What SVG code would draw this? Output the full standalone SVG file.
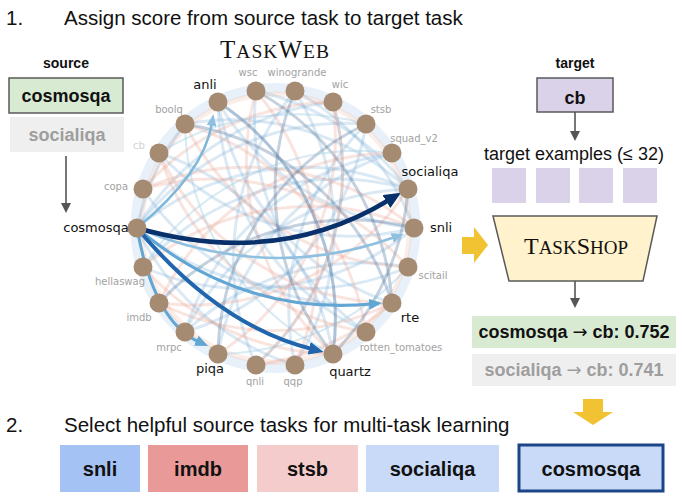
<svg xmlns="http://www.w3.org/2000/svg" width="682" height="504" viewBox="0 0 682 504">
<defs>
<style>
.ttl{font-family:"Liberation Sans",Arial,sans-serif;font-size:20.5px;fill:#111}
.hd{font-family:"Liberation Sans",Arial,sans-serif;font-size:14px;font-weight:bold;fill:#111;text-anchor:middle}
.bx{font-family:"Liberation Sans",Arial,sans-serif;font-size:18px;font-weight:bold;fill:#111;text-anchor:middle}
.bxg{fill:#9e9e9e}
.ar{font-family:"DejaVu Sans",sans-serif;font-weight:normal}
.bb{font-family:"Liberation Sans",Arial,sans-serif;font-size:20px;font-weight:bold;fill:#111;text-anchor:middle}
.sc{font-family:"Liberation Serif","Times New Roman",serif;fill:#111;text-anchor:middle}
.nl{font-family:"DejaVu Sans",sans-serif;font-size:13px;fill:#111;text-anchor:middle}
.gl{font-family:"DejaVu Sans",sans-serif;font-size:10px;fill:#a2a2a2;text-anchor:middle}
.node{fill:#a68b73}
.w1{fill:none;stroke:#5a9ccc;stroke-width:3;opacity:.22}
.w2{fill:none;stroke:#e69a86;stroke-width:3;opacity:.26}
.w3{fill:none;stroke:#4f739b;stroke-width:3;opacity:.33}
.w4{fill:none;stroke:#9ecae1;stroke-width:2;opacity:.4}
.gray{fill:none;stroke:#555;stroke-width:1.6}
.yel{fill:#f1c232}
</style>
<marker id="mg" markerUnits="userSpaceOnUse" markerWidth="10" markerHeight="10" refX="2" refY="5" orient="auto"><path d="M0,0 L10,5 L0,10 z" fill="#555"/></marker>
<marker id="mnavy" markerUnits="userSpaceOnUse" markerWidth="17" markerHeight="15" refX="3" refY="7.5" orient="auto"><path d="M0,0 L17,7.5 L0,15 z" fill="#08306b"/></marker>
<marker id="mblue" markerUnits="userSpaceOnUse" markerWidth="15" markerHeight="13" refX="3" refY="6.5" orient="auto"><path d="M0,0 L15,6.5 L0,13 z" fill="#2166ac"/></marker>
<marker id="mmid" markerUnits="userSpaceOnUse" markerWidth="13" markerHeight="11" refX="3" refY="5.5" orient="auto"><path d="M0,0 L13,5.5 L0,11 z" fill="#62a6d3"/></marker>
<marker id="mlt" markerUnits="userSpaceOnUse" markerWidth="12" markerHeight="10" refX="3" refY="5" orient="auto"><path d="M0,0 L12,5 L0,10 z" fill="#8fc0df"/></marker>
</defs>
<rect width="682" height="504" fill="#fff"/>

<text class="ttl" x="6" y="25">1.</text>
<text class="ttl" x="64" y="25">Assign score from source task to target task</text>
<text class="ttl" x="6" y="432">2.</text>
<text class="ttl" x="64" y="432">Select helpful source tasks for multi-task learning</text>

<text class="sc" x="275" y="58" letter-spacing="1"><tspan font-size="25">T</tspan><tspan font-size="19.5">ASK</tspan><tspan font-size="25">W</tspan><tspan font-size="19.5">EB</tspan></text>

<g id="source">
<text class="hd" x="66" y="68">source</text>
<rect x="9" y="78" width="114" height="35" fill="#d9ead3" stroke="#595959" stroke-width="1.5"/>
<text class="bx" x="66" y="102">cosmosqa</text>
<rect x="10" y="117" width="114" height="35" fill="#efefef"/>
<text class="bx bxg" x="67" y="141">socialiqa</text>
</g>

<g id="target">
<text class="hd" x="575" y="68">target</text>
<rect x="537" y="78" width="76" height="34" fill="#d9d2e9" stroke="#595959" stroke-width="1.5"/>
<text class="bx" x="575" y="104" font-size="24">cb</text>
</g>

<g id="examples">
<text x="574" y="160" font-family="Liberation Sans,Arial,sans-serif" font-size="18" fill="#111" text-anchor="middle">target examples (≤ 32)</text>
<rect x="492" y="168" width="34" height="35" fill="#d9d2e9"/>
<rect x="536" y="168" width="34" height="35" fill="#d9d2e9"/>
<rect x="579" y="168" width="34" height="35" fill="#d9d2e9"/>
<rect x="623" y="168" width="34" height="35" fill="#d9d2e9"/>
</g>

<g id="taskshop">
<polygon points="493,216 657,216 643,281 509,281" fill="#fff2cc" stroke="#595959" stroke-width="1.5"/>
<text class="sc" x="576" y="254"><tspan font-size="24">T</tspan><tspan font-size="19">ASK</tspan><tspan font-size="24">S</tspan><tspan font-size="19">HOP</tspan></text>
</g>

<g id="results">
<rect x="472" y="316" width="204" height="32" fill="#d9ead3"/>
<text class="bx" x="574" y="338">cosmosqa <tspan class="ar">→</tspan> cb: 0.752</text>
<rect x="472" y="354" width="204" height="32" fill="#efefef"/>
<text class="bx bxg" x="574" y="376">socialiqa <tspan class="ar">→</tspan> cb: 0.741</text>
</g>

<g id="selected">
<rect x="60" y="445" width="80" height="47" fill="#a4c2f4"/>
<text class="bb" x="100" y="476">snli</text>
<rect x="148" y="445" width="100" height="47" fill="#ea9999"/>
<text class="bb" x="198" y="476">imdb</text>
<rect x="257" y="445" width="101" height="47" fill="#f4cccc"/>
<text class="bb" x="307.5" y="476">stsb</text>
<rect x="366" y="445" width="133" height="47" fill="#c9daf8"/>
<text class="bb" x="432.5" y="476">socialiqa</text>
<rect x="519" y="445" width="144" height="46" fill="#c9daf8" stroke="#1c4587" stroke-width="3"/>
<text class="bb" x="591" y="476">cosmosqa</text>
</g>

<g id="flow-arrows">
<path class="gray" d="M66,156 L66,205" marker-end="url(#mg)"/>
<path class="gray" d="M575,112 L575,133" marker-end="url(#mg)"/>
<path class="gray" d="M575,281 L575,300" marker-end="url(#mg)"/>
<polygon class="yel" points="462,237 474,237 474,227 488,245 474,263 474,254 462,254"/>
<polygon class="yel" points="583,399 603,399 603,412 613,412 593,425 573,412 583,412"/>
</g>

<g id="connectors">
<circle cx="275.5" cy="228" r="140" fill="none" stroke="#bcd8ee" stroke-width="10" opacity=".35"/>
<circle cx="275.5" cy="228" r="134" fill="none" stroke="#f2c4b4" stroke-width="5" opacity=".3"/>
<path class="w1" d="M185,124 A260,260 0 0,1 408,189"/>
<path class="w1" d="M159,153 A260,260 0 0,0 414,228"/>
<path class="w1" d="M185,332 A260,260 0 0,1 408,267"/>
<path class="w1" d="M218,354 A260,260 0 0,1 392,153"/>
<path class="w1" d="M256,365 A260,260 0 0,0 333,102"/>
<path class="w1" d="M295,365 A260,260 0 0,1 366,124"/>
<path class="w1" d="M333,354 A260,260 0 0,0 218,102"/>
<path class="w1" d="M414,228 A260,260 0 0,1 143,267"/>
<path class="w1" d="M392,153 A260,260 0 0,0 185,332"/>
<path class="w1" d="M295,91 A260,260 0 0,1 295,365"/>
<path class="w1" d="M256,91 A260,260 0 0,0 366,332"/>
<path class="w1" d="M159,153 A260,260 0 0,1 333,354"/>
<path class="w1" d="M143,189 A260,260 0 0,0 392,303"/>
<path class="w1" d="M143,267 A260,260 0 0,1 408,189"/>
<path class="w1" d="M185,332 A260,260 0 0,0 366,124"/>
<path class="w1" d="M256,365 A260,260 0 0,1 295,91"/>
<path class="w1" d="M408,189 A260,260 0 0,0 185,332"/>
<path class="w1" d="M366,332 A260,260 0 0,1 218,102"/>
<path class="w1" d="M218,102 A260,260 0 0,0 414,228"/>
<path class="w1" d="M256,91 A260,260 0 0,1 408,189"/>
<path class="w1" d="M414,228 A260,260 0 0,0 295,91"/>
<path class="w1" d="M218,102 A260,260 0 0,0 392,303"/>
<path class="w1" d="M137,228 A260,260 0 0,1 185,124"/>
<path class="w1" d="M137,228 A260,260 0 0,1 333,102"/>
<path class="w1" d="M137,228 A260,260 0 0,1 366,124"/>
<path class="w1" d="M137,228 A260,260 0 0,0 295,365"/>
<path class="w1" d="M137,228 A260,260 0 0,0 408,267"/>
<path class="w1" d="M137,228 A260,260 0 0,1 408,189"/>
<path class="w2" d="M143,189 A260,260 0 0,1 414,228"/>
<path class="w2" d="M143,267 A260,260 0 0,1 414,228"/>
<path class="w2" d="M159,303 A260,260 0 0,0 392,303"/>
<path class="w2" d="M366,332 A260,260 0 0,0 185,124"/>
<path class="w2" d="M392,303 A260,260 0 0,1 159,153"/>
<path class="w2" d="M408,267 A260,260 0 0,0 143,189"/>
<path class="w2" d="M408,189 A260,260 0 0,1 159,303"/>
<path class="w2" d="M333,102 A260,260 0 0,1 256,365"/>
<path class="w2" d="M256,91 A260,260 0 0,0 333,354"/>
<path class="w2" d="M159,303 A260,260 0 0,1 392,153"/>
<path class="w2" d="M218,354 A260,260 0 0,0 333,102"/>
<path class="w2" d="M295,365 A260,260 0 0,0 256,91"/>
<path class="w2" d="M333,102 A260,260 0 0,0 143,189"/>
<path class="w2" d="M392,303 A260,260 0 0,1 256,365"/>
<path class="w2" d="M185,124 A260,260 0 0,0 408,267"/>
<path class="w2" d="M143,267 A260,260 0 0,0 333,354"/>
<path class="w2" d="M159,153 A260,260 0 0,0 366,332"/>
<path class="w3" d="M218,102 A260,260 0 0,1 333,354"/>
<path class="w3" d="M295,91 A260,260 0 0,0 333,354"/>
<path class="w3" d="M366,124 A260,260 0 0,0 218,354"/>
<path class="w3" d="M185,124 A260,260 0 0,1 392,303"/>
<path class="w3" d="M159,303 A260,260 0 0,1 414,228"/>
<path class="w3" d="M408,189 A260,260 0 0,1 333,354"/>
<path class="w3" d="M256,91 A260,260 0 0,1 392,303"/>
<path class="w4" d="M366,124 A260,260 0 0,0 159,153"/>
<path class="w4" d="M392,153 A260,260 0 0,0 143,267"/>
<path class="w4" d="M408,267 A260,260 0 0,1 218,354"/>
<path class="w4" d="M333,354 A260,260 0 0,1 185,124"/>

<path d="M137,228 Q204,173 212,123" fill="none" stroke="#7fb8da" stroke-width="2.5" marker-end="url(#mlt)"/>
<path d="M137,228 Q269,283 395,237" fill="none" stroke="#8fc0df" stroke-width="2.5" marker-end="url(#mlt)"/>
<path d="M137,228 Q240,316 372,304" fill="none" stroke="#62a6d3" stroke-width="3" marker-end="url(#mmid)"/>
<path d="M137,228 Q154,322 199,342" fill="none" stroke="#62a6d3" stroke-width="3" marker-end="url(#mmid)"/>
<path d="M137,228 Q219,326 312,349" fill="none" stroke="#2166ac" stroke-width="4" marker-end="url(#mblue)"/>
<path d="M137,228 Q277,268 389,200" fill="none" stroke="#08306b" stroke-width="4.5" marker-end="url(#mnavy)"/>
</g>

<g id="n-snli"><circle class="node" cx="414" cy="228" r="9.5"/><text class="nl" x="441" y="232">snli</text></g>
<g id="n-socialiqa"><circle class="node" cx="408" cy="189" r="9.5"/><text class="nl" x="430" y="176">socialiqa</text></g>
<g id="n-squad_v2"><circle class="node" cx="392" cy="153" r="9.5"/><text class="gl" x="414" y="142">squad_v2</text></g>
<g id="n-stsb"><circle class="node" cx="366" cy="124" r="9.5"/><text class="gl" x="381" y="113">stsb</text></g>
<g id="n-wic"><circle class="node" cx="333" cy="102" r="9.5"/><text class="gl" x="340" y="88">wic</text></g>
<g id="n-winogrande"><circle class="node" cx="295" cy="91" r="9.5"/><text class="gl" x="297" y="76">winogrande</text></g>
<g id="n-wsc"><circle class="node" cx="256" cy="91" r="9.5"/><text class="gl" x="248" y="76">wsc</text></g>
<g id="n-anli"><circle class="node" cx="218" cy="102" r="9.5"/><text class="nl" x="205" y="89">anli</text></g>
<g id="n-boolq"><circle class="node" cx="185" cy="124" r="9.5"/><text class="gl" x="169" y="113">boolq</text></g>
<g id="n-cb"><circle class="node" cx="159" cy="153" r="9.5"/><text class="gl" x="139" y="149" style="fill:#d2d2d2">cb</text></g>
<g id="n-copa"><circle class="node" cx="143" cy="189" r="9.5"/><text class="gl" x="116" y="190">copa</text></g>
<g id="n-cosmosqa"><circle class="node" cx="137" cy="228" r="9.5"/><text class="nl" x="96" y="232">cosmosqa</text></g>
<g id="n-hellaswag"><circle class="node" cx="143" cy="267" r="9.5"/><text class="gl" x="120" y="285">hellaswag</text></g>
<g id="n-imdb"><circle class="node" cx="159" cy="303" r="9.5"/><text class="gl" x="139" y="321">imdb</text></g>
<g id="n-mrpc"><circle class="node" cx="185" cy="332" r="9.5"/><text class="gl" x="169" y="351">mrpc</text></g>
<g id="n-piqa"><circle class="node" cx="218" cy="354" r="9.5"/><text class="nl" x="210" y="373">piqa</text></g>
<g id="n-qnli"><circle class="node" cx="256" cy="365" r="9.5"/><text class="gl" x="255" y="385">qnli</text></g>
<g id="n-qqp"><circle class="node" cx="295" cy="365" r="9.5"/><text class="gl" x="293" y="385">qqp</text></g>
<g id="n-quartz"><circle class="node" cx="333" cy="354" r="9.5"/><text class="nl" x="350" y="376">quartz</text></g>
<g id="n-rotten_tomatoes"><circle class="node" cx="366" cy="332" r="9.5"/><text class="gl" x="401" y="351">rotten_tomatoes</text></g>
<g id="n-rte"><circle class="node" cx="392" cy="303" r="9.5"/><text class="nl" x="410" y="322">rte</text></g>
<g id="n-scitail"><circle class="node" cx="408" cy="267" r="9.5"/><text class="gl" x="433" y="279">scitail</text></g>
</svg>
